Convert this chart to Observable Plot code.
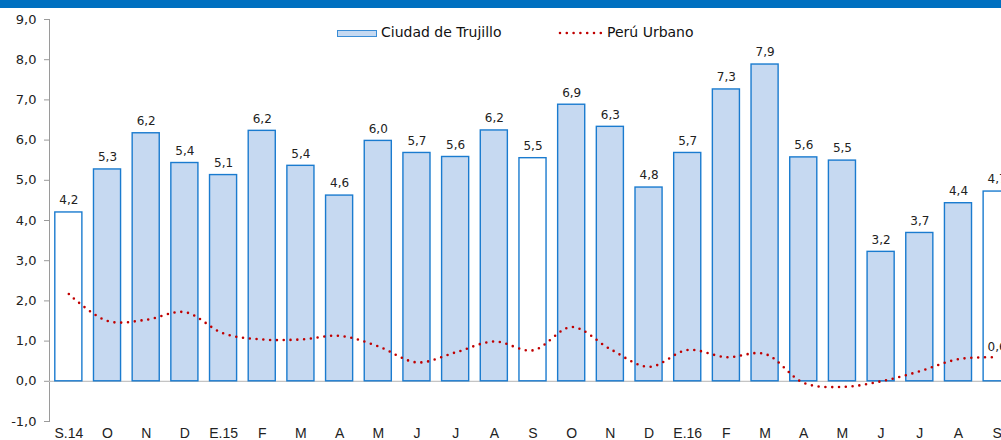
<!DOCTYPE html>
<html><head><meta charset="utf-8">
<script src="https://cdn.jsdelivr.net/npm/d3@7"></script>
<script src="https://cdn.jsdelivr.net/npm/@observablehq/plot@0.6"></script>
<style>
html,body{margin:0;padding:0;background:#fff;overflow:hidden;}
#wrap{position:relative;width:1001px;height:440px;font-family:"DejaVu Sans",sans-serif;}
#hdr{position:absolute;left:0;top:0;width:1001px;height:8px;background:#0070C0;}
.lg{position:absolute;font-size:14px;color:#111;line-height:15px;}
</style></head>
<body><div id="wrap"><div id="hdr"></div>
<div class="lg" style="left:337px;top:30px;width:38px;height:5px;background:#C6D9F1;border:1px solid #3A8DD6;"></div>
<div class="lg" style="left:381px;top:25px;">Ciudad de Trujillo</div>
<svg class="lg" style="left:557px;top:28px;" width="46" height="10"><line x1="3" y1="5" x2="44" y2="5" stroke="#C00000" stroke-width="2.6" stroke-dasharray="0,6.8" stroke-linecap="round"/></svg>
<div class="lg" style="left:607px;top:25px;">Perú Urbano</div>
</div>
<script>
const meses = ["S.14","O","N","D","E.15","F","M","A","M","J","J","A","S","O","N","D","E.16","F","M","A","M","J","J","A","S"];
const trujillo = [4.2,5.27,6.17,5.43,5.13,6.23,5.36,4.62,5.98,5.68,5.58,6.24,5.55,6.88,6.33,4.82,5.68,7.26,7.88,5.57,5.49,3.22,3.69,4.43,4.72];
const peru = [2.17,1.50,1.53,1.72,1.19,1.04,1.04,1.13,0.87,0.47,0.72,0.99,0.77,1.35,0.80,0.36,0.78,0.60,0.68,-0.04,-0.14,0.0,0.25,0.55,0.60];
const yTicks = [-1,0,1,2,3,4,5,6,7,8,9];

const data = meses.map((m,i)=>({i, mes:m, t:trujillo[i], p:peru[i], hollow:m.startsWith("S")}));
const fmt = v => v.toFixed(1).replace(".", ",");
const font = "DejaVu Sans";

const chart = Plot.plot({
  width: 1001, height: 440,
  marginLeft: 49, marginTop: 19, marginBottom: 19, marginRight: 0,
  style: {fontFamily: font, background: "transparent", overflow: "visible"},
  x: {type: "band", domain: d3.range(meses.length), range: [49, 1016], paddingInner: 0.3, paddingOuter: 0.15, align: 0.5, round: false},
  y: {domain: [-1, 9], range: [421, 19]},
  marks: [
    Plot.frame({anchor: "left", stroke: "#9A9A9A"}),
    Plot.ruleY([0], {stroke: "#C4C4C4", strokeWidth: 1.3}),
    Plot.barY(data.filter(d=>!d.hollow), {x: "i", y: "t", fill: "#C6D9F1", stroke: "#1A7BCF", strokeWidth: 1.4}),
    Plot.barY(data.filter(d=>d.hollow), {x: "i", y: "t", fill: "#FFFFFF", stroke: "#1A7BCF", strokeWidth: 1.4}),
    Plot.line(data, {x: "i", y: "p", curve: "catmull-rom", stroke: "#C00000", strokeWidth: 2.6, strokeDasharray: "0,6.8", strokeLinecap: "round"}),
    Plot.text(data, {x: "i", y: "t", text: d => fmt(d.t), dy: -12, fontSize: 12, fill: "#222", fontFamily: font}),
    Plot.text(data.slice(-1), {x: "i", y: "p", text: d => fmt(d.p), dy: -10, fontSize: 12, fill: "#222", fontFamily: font}),
    Plot.axisY({ticks: yTicks, tickFormat: fmt, tickSize: 5, tickPadding: 8, stroke: "#9A9A9A", fill: "#222", fontSize: 13, label: null}),
    Plot.axisX({tickFormat: i => meses[i], tickSize: 0, tickPadding: 7, fill: "#222", fontSize: 14, fontFamily: "Liberation Sans", label: null})
  ]
});
document.getElementById("wrap").prepend(chart);
chart.style.position = "absolute"; chart.style.left = "0"; chart.style.top = "0";
</script></body></html>
